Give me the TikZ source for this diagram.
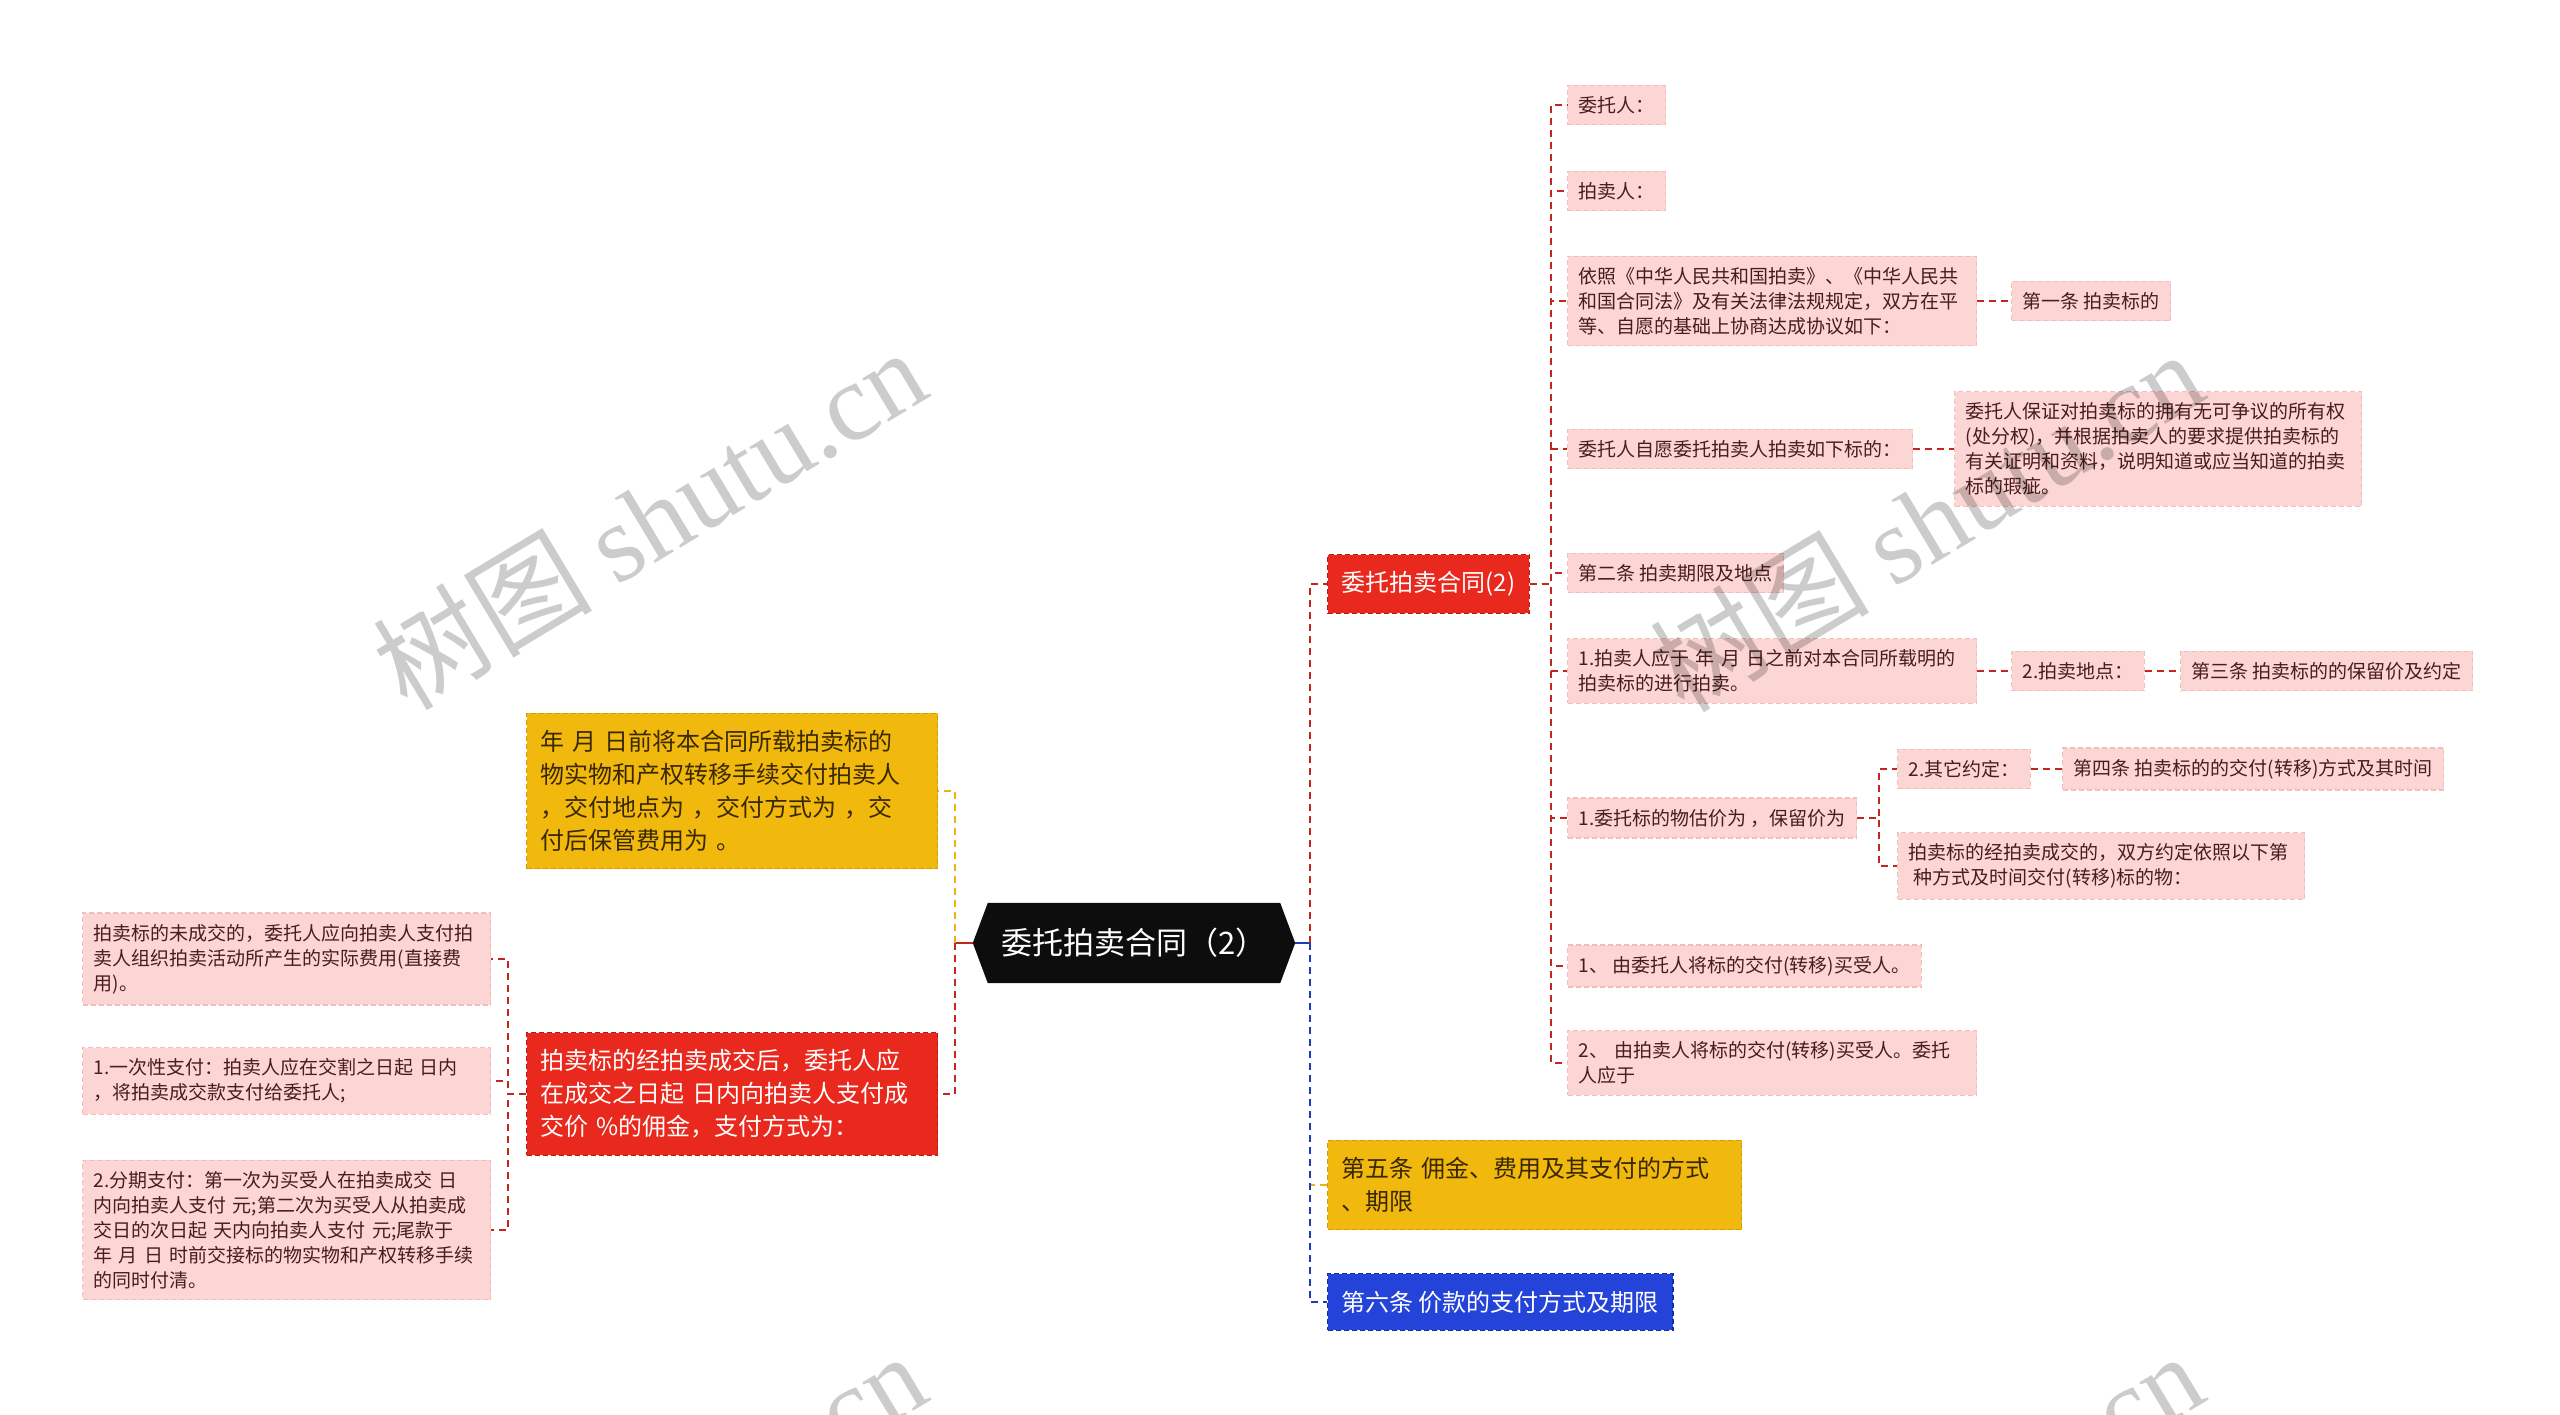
\documentclass[tikz,border=0pt]{standalone}
\usepackage{fontspec}
\setmainfont{Noto Sans CJK SC}
\newfontfamily\wmserif{Liberation Serif}
\usetikzlibrary{backgrounds}
\definecolor{pinkfill}{HTML}{FCD6D4}
\definecolor{pinkline}{HTML}{F2BDBA}
\definecolor{pinktext}{HTML}{4A1C1C}
\definecolor{redfill}{HTML}{E9291D}
\definecolor{redline}{HTML}{B8180F}
\definecolor{yelfill}{HTML}{F1B80D}
\definecolor{yelline}{HTML}{D79B00}
\definecolor{yeltext}{HTML}{3A2800}
\definecolor{bluefill}{HTML}{2443D8}
\definecolor{blueline}{HTML}{132FA8}
\definecolor{conred}{HTML}{C0281E}
\definecolor{conyel}{HTML}{E9B413}
\definecolor{conblue}{HTML}{1F3BB0}
\tikzset{
  pk/.style={anchor=west, fill=pinkfill, draw=pinkline, dash pattern=on 5pt off 3pt,
    line width=1.2pt, text=pinktext, font=\fontsize{19}{25}\selectfont, align=left,
    inner xsep=11pt, inner ysep=11pt},
  lv/.style={anchor=west, dash pattern=on 5pt off 3pt, line width=1.2pt,
    font=\fontsize{24}{33}\selectfont, align=left, inner xsep=14pt, inner ysep=17pt},
  redbox/.style={lv, fill=redfill, draw=redline, text=white},
  yelbox/.style={lv, fill=yelfill, draw=yelline, text=yeltext},
  bluebox/.style={lv, fill=bluefill, draw=blueline, text=white},
  con/.style={line width=2pt, dash pattern=on 7pt off 5pt},
  wm/.style={rotate=31, text=black, opacity=0.2, font=\fontsize{110}{110}\selectfont},
}
\begin{document}
\begin{tikzpicture}[x=1pt, y=-1pt]
\useasboundingbox (0,0) rectangle (2560,1414);

% center
\node[minimum width=292pt, minimum height=80pt, inner sep=0pt, text=white,
  font=\fontsize{31}{31}\selectfont] (c) at (1134,943) {委托拍卖合同（2）};
\coordinate (ctl) at ([xshift=-15pt]c.west);
\coordinate (ctr) at ([xshift=15pt]c.east);
\coordinate (cl) at (955,943);
\coordinate (cr) at (1310,943);

% left branch
\node[yelbox, text width=383pt] (ly) at (526,791) {年~月~日前将本合同所载拍卖标的\\物实物和产权转移手续交付拍卖人\\，交付地点为~，交付方式为~，交\\付后保管费用为~。};
\node[redbox, text width=383pt] (lr) at (526,1094) {拍卖标的经拍卖成交后，委托人应\\在成交之日起~日内向拍卖人支付成\\交价~\%的佣金，支付方式为：};
\coordinate (lb) at (508,1094);
\node[pk, text width=386pt] (L1) at (82,959) {拍卖标的未成交的，委托人应向拍卖人支付拍\\卖人组织拍卖活动所产生的实际费用(直接费\\用)。};
\node[pk, text width=386pt] (L2) at (82,1081) {1.一次性支付：拍卖人应在交割之日起~日内\\，将拍卖成交款支付给委托人;};
\node[pk, text width=386pt] (L3) at (82,1230) {2.分期支付：第一次为买受人在拍卖成交~日\\内向拍卖人支付~元;第二次为买受人从拍卖成\\交日的次日起~天内向拍卖人支付~元;尾款于\\年~月~日~时前交接标的物实物和产权转移手续\\的同时付清。};

% right branch level 1
\node[redbox] (r1) at (1327,584) {委托拍卖合同(2)};
\node[yelbox, text width=386pt] (r2) at (1327,1185) {第五条~佣金、费用及其支付的方式\\、期限};
\node[bluebox] (r3) at (1327,1302) {第六条~价款的支付方式及期限};
\coordinate (rb) at (1551,584);

% right branch level 2
\node[pk] (n1) at (1567,105) {委托人：};
\node[pk] (n2) at (1567,191) {拍卖人：};
\node[pk, text width=387pt] (n3) at (1567,301) {依照《中华人民共和国拍卖》、《中华人民共\\和国合同法》及有关法律法规规定，双方在平\\等、自愿的基础上协商达成协议如下：};
\node[pk] (n3a) at (2011,301) {第一条~拍卖标的};
\node[pk] (n4) at (1567,449) {委托人自愿委托拍卖人拍卖如下标的：};
\node[pk, text width=385pt] (n4a) at (1954,449) {委托人保证对拍卖标的拥有无可争议的所有权\\(处分权)，并根据拍卖人的要求提供拍卖标的\\有关证明和资料，说明知道或应当知道的拍卖\\标的瑕疵。};
\node[pk] (n5) at (1567,573) {第二条~拍卖期限及地点};
\node[pk, text width=387pt] (n6) at (1567,671) {1.拍卖人应于~年~月~日之前对本合同所载明的\\拍卖标的进行拍卖。};
\node[pk] (n6a) at (2011,671) {2.拍卖地点：};
\node[pk] (n6b) at (2180,671) {第三条~拍卖标的的保留价及约定};
\node[pk] (n7) at (1567,818) {1.委托标的物估价为~，保留价为};
\coordinate (b7) at (1879,818);
\node[pk] (n7a) at (1897,769) {2.其它约定：};
\node[pk] (n7b) at (2062,769) {第四条~拍卖标的的交付(转移)方式及其时间};
\node[pk, text width=385pt] (n7c) at (1897,866) {拍卖标的经拍卖成交的，双方约定依照以下第\\\hspace*{5pt}种方式及时间交付(转移)标的物：};
\node[pk] (n8) at (1567,966) {1、~由委托人将标的交付(转移)买受人。};
\node[pk, text width=387pt] (n9) at (1567,1063) {2、~由拍卖人将标的交付(转移)买受人。委托\\人应于};

\begin{scope}[on background layer]
  \fill[white] (0,0) rectangle (2560,1414);
  \fill[black!95] (ctl) -- (c.north west) -- (c.north east) -- (ctr) -- (c.south east) -- (c.south west) -- cycle;
  % left
  \draw[conred, line width=2pt] (ctl) -- (cl);
  \draw[con, conyel] (cl) |- (ly.east);
  \draw[con, conred] (cl) |- (lr.east);
  \foreach \t in {L1,L2,L3} \draw[con, conred] (lr.west) -- (lb) |- (\t.east);
  % right
  \draw[conblue, line width=2pt] (ctr) -- (cr);
  \draw[con, conred] (cr) |- (r1.west);
  \draw[con, conyel] (cr) |- (r2.west);
  \draw[con, conblue] (cr) |- (r3.west);
  \foreach \t in {n1,n2,n3,n4,n5,n6,n7,n8,n9} \draw[con, conred] (r1.east) -- (rb) |- (\t.west);
  \draw[con, conred] (n3.east) -- (n3a.west);
  \draw[con, conred] (n4.east) -- (n4a.west);
  \draw[con, conred] (n6.east) -- (n6a.west);
  \draw[con, conred] (n6a.east) -- (n6b.west);
  \draw[con, conred] (n7a.east) -- (n7b.west);
  \foreach \t in {n7a,n7c} \draw[con, conred] (n7.east) -- (b7) |- (\t.west);
\end{scope}

% watermarks
\node[wm] (w1) at (649,518) {树图~{\wmserif shutu.cn}};
\node[wm] (w2) at (1926,520) {树图~{\wmserif shutu.cn}};
\node[wm] (w3) at (649,1522) {树图~{\wmserif shutu.cn}};
\node[wm] (w4) at (1926,1522) {树图~{\wmserif shutu.cn}};
\end{tikzpicture}
\end{document}
